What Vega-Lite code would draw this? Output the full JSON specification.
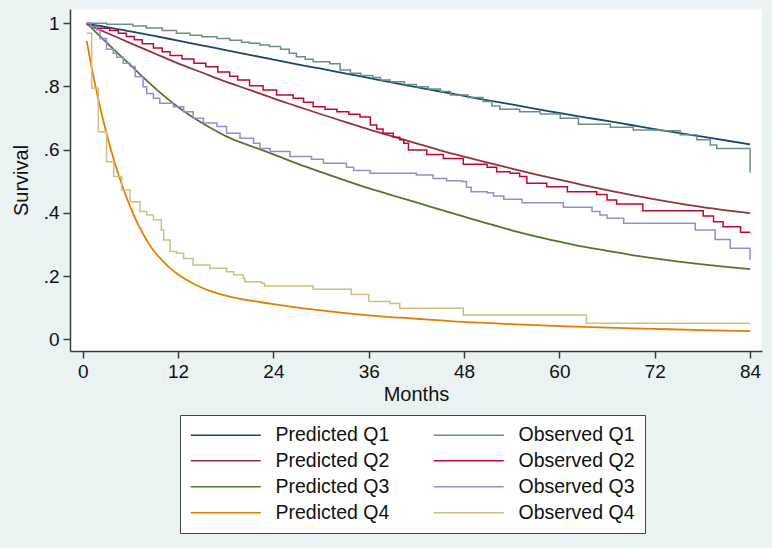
{
  "$schema": "https://vega.github.io/schema/vega-lite/v6.json",
  "autosize": "none",
  "width": 692,
  "height": 342,
  "padding": {"left": 70, "top": 9, "right": 10, "bottom": 197},
  "background": "#eaf2f3",
  "datasets": {
    "pred": [
      {"series": "Predicted Q1", "month": 0.5, "survival": 0.998},
      {"series": "Predicted Q1", "month": 3, "survival": 0.988},
      {"series": "Predicted Q1", "month": 6, "survival": 0.974},
      {"series": "Predicted Q1", "month": 9, "survival": 0.96},
      {"series": "Predicted Q1", "month": 12, "survival": 0.945},
      {"series": "Predicted Q1", "month": 15, "survival": 0.93},
      {"series": "Predicted Q1", "month": 18, "survival": 0.915},
      {"series": "Predicted Q1", "month": 21, "survival": 0.9},
      {"series": "Predicted Q1", "month": 24, "survival": 0.885},
      {"series": "Predicted Q1", "month": 27, "survival": 0.87},
      {"series": "Predicted Q1", "month": 30, "survival": 0.856},
      {"series": "Predicted Q1", "month": 33, "survival": 0.841},
      {"series": "Predicted Q1", "month": 36, "survival": 0.827},
      {"series": "Predicted Q1", "month": 39, "survival": 0.812},
      {"series": "Predicted Q1", "month": 42, "survival": 0.798},
      {"series": "Predicted Q1", "month": 45, "survival": 0.784},
      {"series": "Predicted Q1", "month": 48, "survival": 0.77},
      {"series": "Predicted Q1", "month": 51, "survival": 0.756},
      {"series": "Predicted Q1", "month": 54, "survival": 0.743},
      {"series": "Predicted Q1", "month": 57, "survival": 0.729},
      {"series": "Predicted Q1", "month": 60, "survival": 0.716},
      {"series": "Predicted Q1", "month": 63, "survival": 0.703},
      {"series": "Predicted Q1", "month": 66, "survival": 0.691},
      {"series": "Predicted Q1", "month": 69, "survival": 0.678},
      {"series": "Predicted Q1", "month": 72, "survival": 0.665},
      {"series": "Predicted Q1", "month": 75, "survival": 0.653},
      {"series": "Predicted Q1", "month": 78, "survival": 0.641},
      {"series": "Predicted Q1", "month": 81, "survival": 0.629},
      {"series": "Predicted Q1", "month": 84, "survival": 0.617},
      {"series": "Predicted Q2", "month": 0.5, "survival": 0.997},
      {"series": "Predicted Q2", "month": 3, "survival": 0.97},
      {"series": "Predicted Q2", "month": 6, "survival": 0.937},
      {"series": "Predicted Q2", "month": 9, "survival": 0.905},
      {"series": "Predicted Q2", "month": 12, "survival": 0.873},
      {"series": "Predicted Q2", "month": 15, "survival": 0.844},
      {"series": "Predicted Q2", "month": 18, "survival": 0.815},
      {"series": "Predicted Q2", "month": 21, "survival": 0.789},
      {"series": "Predicted Q2", "month": 24, "survival": 0.762},
      {"series": "Predicted Q2", "month": 27, "survival": 0.737},
      {"series": "Predicted Q2", "month": 30, "survival": 0.712},
      {"series": "Predicted Q2", "month": 33, "survival": 0.688},
      {"series": "Predicted Q2", "month": 36, "survival": 0.664},
      {"series": "Predicted Q2", "month": 39, "survival": 0.642},
      {"series": "Predicted Q2", "month": 42, "survival": 0.62},
      {"series": "Predicted Q2", "month": 45, "survival": 0.598},
      {"series": "Predicted Q2", "month": 48, "survival": 0.578},
      {"series": "Predicted Q2", "month": 51, "survival": 0.559},
      {"series": "Predicted Q2", "month": 54, "survival": 0.54},
      {"series": "Predicted Q2", "month": 57, "survival": 0.522},
      {"series": "Predicted Q2", "month": 60, "survival": 0.505},
      {"series": "Predicted Q2", "month": 63, "survival": 0.488},
      {"series": "Predicted Q2", "month": 66, "survival": 0.472},
      {"series": "Predicted Q2", "month": 69, "survival": 0.457},
      {"series": "Predicted Q2", "month": 72, "survival": 0.443},
      {"series": "Predicted Q2", "month": 75, "survival": 0.43},
      {"series": "Predicted Q2", "month": 78, "survival": 0.418},
      {"series": "Predicted Q2", "month": 81, "survival": 0.408},
      {"series": "Predicted Q2", "month": 84, "survival": 0.399},
      {"series": "Predicted Q3", "month": 0.5, "survival": 1.0},
      {"series": "Predicted Q3", "month": 2, "survival": 0.963},
      {"series": "Predicted Q3", "month": 4, "survival": 0.915},
      {"series": "Predicted Q3", "month": 6, "survival": 0.868},
      {"series": "Predicted Q3", "month": 8, "survival": 0.82},
      {"series": "Predicted Q3", "month": 10, "survival": 0.775},
      {"series": "Predicted Q3", "month": 12, "survival": 0.735},
      {"series": "Predicted Q3", "month": 14, "survival": 0.7},
      {"series": "Predicted Q3", "month": 16, "survival": 0.67},
      {"series": "Predicted Q3", "month": 18, "survival": 0.643},
      {"series": "Predicted Q3", "month": 20, "survival": 0.622},
      {"series": "Predicted Q3", "month": 22, "survival": 0.604},
      {"series": "Predicted Q3", "month": 24, "survival": 0.585},
      {"series": "Predicted Q3", "month": 27, "survival": 0.556},
      {"series": "Predicted Q3", "month": 30, "survival": 0.529},
      {"series": "Predicted Q3", "month": 33, "survival": 0.503},
      {"series": "Predicted Q3", "month": 36, "survival": 0.478},
      {"series": "Predicted Q3", "month": 39, "survival": 0.455},
      {"series": "Predicted Q3", "month": 42, "survival": 0.433},
      {"series": "Predicted Q3", "month": 45, "survival": 0.41},
      {"series": "Predicted Q3", "month": 48, "survival": 0.388},
      {"series": "Predicted Q3", "month": 51, "survival": 0.366},
      {"series": "Predicted Q3", "month": 54, "survival": 0.345},
      {"series": "Predicted Q3", "month": 57, "survival": 0.326},
      {"series": "Predicted Q3", "month": 60, "survival": 0.309},
      {"series": "Predicted Q3", "month": 63, "survival": 0.293},
      {"series": "Predicted Q3", "month": 66, "survival": 0.28},
      {"series": "Predicted Q3", "month": 69, "survival": 0.267},
      {"series": "Predicted Q3", "month": 72, "survival": 0.256},
      {"series": "Predicted Q3", "month": 75, "survival": 0.246},
      {"series": "Predicted Q3", "month": 78, "survival": 0.237},
      {"series": "Predicted Q3", "month": 81, "survival": 0.229},
      {"series": "Predicted Q3", "month": 84, "survival": 0.222},
      {"series": "Predicted Q4", "month": 0.5, "survival": 0.944},
      {"series": "Predicted Q4", "month": 1, "survival": 0.876},
      {"series": "Predicted Q4", "month": 2, "survival": 0.755},
      {"series": "Predicted Q4", "month": 3, "survival": 0.651},
      {"series": "Predicted Q4", "month": 4, "survival": 0.561},
      {"series": "Predicted Q4", "month": 5, "survival": 0.484},
      {"series": "Predicted Q4", "month": 6, "survival": 0.418},
      {"series": "Predicted Q4", "month": 7, "survival": 0.362},
      {"series": "Predicted Q4", "month": 8, "survival": 0.316},
      {"series": "Predicted Q4", "month": 9, "survival": 0.278},
      {"series": "Predicted Q4", "month": 10, "survival": 0.25},
      {"series": "Predicted Q4", "month": 11, "survival": 0.225},
      {"series": "Predicted Q4", "month": 12, "survival": 0.205},
      {"series": "Predicted Q4", "month": 13, "survival": 0.189},
      {"series": "Predicted Q4", "month": 14, "survival": 0.175},
      {"series": "Predicted Q4", "month": 16, "survival": 0.153},
      {"series": "Predicted Q4", "month": 18, "survival": 0.138},
      {"series": "Predicted Q4", "month": 20, "survival": 0.127},
      {"series": "Predicted Q4", "month": 22, "survival": 0.119},
      {"series": "Predicted Q4", "month": 24, "survival": 0.111},
      {"series": "Predicted Q4", "month": 28, "survival": 0.097},
      {"series": "Predicted Q4", "month": 32, "survival": 0.086},
      {"series": "Predicted Q4", "month": 36, "survival": 0.076},
      {"series": "Predicted Q4", "month": 42, "survival": 0.065},
      {"series": "Predicted Q4", "month": 48, "survival": 0.055},
      {"series": "Predicted Q4", "month": 54, "survival": 0.048},
      {"series": "Predicted Q4", "month": 60, "survival": 0.042},
      {"series": "Predicted Q4", "month": 66, "survival": 0.037},
      {"series": "Predicted Q4", "month": 72, "survival": 0.033},
      {"series": "Predicted Q4", "month": 78, "survival": 0.029},
      {"series": "Predicted Q4", "month": 84, "survival": 0.026}
    ],
    "obs": [
      {"series": "Observed Q1", "month": 0.5, "survival": 1.0},
      {"series": "Observed Q1", "month": 3, "survival": 0.997},
      {"series": "Observed Q1", "month": 6.3, "survival": 0.991},
      {"series": "Observed Q1", "month": 8, "survival": 0.985},
      {"series": "Observed Q1", "month": 10, "survival": 0.977},
      {"series": "Observed Q1", "month": 11.8, "survival": 0.968},
      {"series": "Observed Q1", "month": 13.5, "survival": 0.962},
      {"series": "Observed Q1", "month": 15, "survival": 0.957},
      {"series": "Observed Q1", "month": 16.9, "survival": 0.952},
      {"series": "Observed Q1", "month": 18.5, "survival": 0.946},
      {"series": "Observed Q1", "month": 20, "survival": 0.94},
      {"series": "Observed Q1", "month": 21, "survival": 0.937},
      {"series": "Observed Q1", "month": 22.3, "survival": 0.931},
      {"series": "Observed Q1", "month": 23.5, "survival": 0.926},
      {"series": "Observed Q1", "month": 24.9, "survival": 0.918},
      {"series": "Observed Q1", "month": 26, "survival": 0.905},
      {"series": "Observed Q1", "month": 26.9, "survival": 0.894},
      {"series": "Observed Q1", "month": 28, "survival": 0.886},
      {"series": "Observed Q1", "month": 29, "survival": 0.878},
      {"series": "Observed Q1", "month": 31.1, "survival": 0.872},
      {"series": "Observed Q1", "month": 32.4, "survival": 0.852},
      {"series": "Observed Q1", "month": 33.7, "survival": 0.842},
      {"series": "Observed Q1", "month": 35, "survival": 0.835},
      {"series": "Observed Q1", "month": 36.5, "survival": 0.828},
      {"series": "Observed Q1", "month": 37.5, "survival": 0.82},
      {"series": "Observed Q1", "month": 38.7, "survival": 0.815},
      {"series": "Observed Q1", "month": 40.5, "survival": 0.806},
      {"series": "Observed Q1", "month": 42, "survival": 0.799},
      {"series": "Observed Q1", "month": 43.5, "survival": 0.792},
      {"series": "Observed Q1", "month": 45, "survival": 0.784},
      {"series": "Observed Q1", "month": 46.3, "survival": 0.773},
      {"series": "Observed Q1", "month": 48.5, "survival": 0.765},
      {"series": "Observed Q1", "month": 50.4, "survival": 0.752},
      {"series": "Observed Q1", "month": 51.5, "survival": 0.738},
      {"series": "Observed Q1", "month": 52.5, "survival": 0.728},
      {"series": "Observed Q1", "month": 55, "survival": 0.72},
      {"series": "Observed Q1", "month": 57.6, "survival": 0.713},
      {"series": "Observed Q1", "month": 60.1, "survival": 0.699},
      {"series": "Observed Q1", "month": 62.4, "survival": 0.68},
      {"series": "Observed Q1", "month": 66.4, "survival": 0.671},
      {"series": "Observed Q1", "month": 69.3, "survival": 0.662},
      {"series": "Observed Q1", "month": 72.7, "survival": 0.66},
      {"series": "Observed Q1", "month": 75.2, "survival": 0.647},
      {"series": "Observed Q1", "month": 77.3, "survival": 0.631},
      {"series": "Observed Q1", "month": 79, "survival": 0.615},
      {"series": "Observed Q1", "month": 79.8, "survival": 0.604},
      {"series": "Observed Q1", "month": 83.9, "survival": 0.604},
      {"series": "Observed Q1", "month": 84, "survival": 0.528},
      {"series": "Observed Q2", "month": 0.5, "survival": 1.0},
      {"series": "Observed Q2", "month": 1, "survival": 0.992},
      {"series": "Observed Q2", "month": 1.8, "survival": 0.984},
      {"series": "Observed Q2", "month": 3.4, "survival": 0.977},
      {"series": "Observed Q2", "month": 4.5, "survival": 0.968},
      {"series": "Observed Q2", "month": 5.5, "survival": 0.958},
      {"series": "Observed Q2", "month": 6.5, "survival": 0.948},
      {"series": "Observed Q2", "month": 7.5, "survival": 0.935},
      {"series": "Observed Q2", "month": 8.9, "survival": 0.922},
      {"series": "Observed Q2", "month": 10, "survival": 0.91},
      {"series": "Observed Q2", "month": 11, "survival": 0.898},
      {"series": "Observed Q2", "month": 12.5, "survival": 0.887},
      {"series": "Observed Q2", "month": 14, "survival": 0.873},
      {"series": "Observed Q2", "month": 15.5, "survival": 0.862},
      {"series": "Observed Q2", "month": 17, "survival": 0.846},
      {"series": "Observed Q2", "month": 18.5, "survival": 0.832},
      {"series": "Observed Q2", "month": 19.5, "survival": 0.82},
      {"series": "Observed Q2", "month": 21, "survival": 0.802},
      {"series": "Observed Q2", "month": 22.7, "survival": 0.789},
      {"series": "Observed Q2", "month": 24.4, "survival": 0.773},
      {"series": "Observed Q2", "month": 26.5, "survival": 0.763},
      {"series": "Observed Q2", "month": 27.8, "survival": 0.75},
      {"series": "Observed Q2", "month": 29, "survival": 0.736},
      {"series": "Observed Q2", "month": 30.5, "survival": 0.728},
      {"series": "Observed Q2", "month": 32, "survival": 0.72},
      {"series": "Observed Q2", "month": 33.5, "survival": 0.712},
      {"series": "Observed Q2", "month": 34.9, "survival": 0.703},
      {"series": "Observed Q2", "month": 36.2, "survival": 0.678},
      {"series": "Observed Q2", "month": 37, "survival": 0.665},
      {"series": "Observed Q2", "month": 37.8, "survival": 0.652},
      {"series": "Observed Q2", "month": 39.1, "survival": 0.639},
      {"series": "Observed Q2", "month": 39.9, "survival": 0.631},
      {"series": "Observed Q2", "month": 40.4, "survival": 0.62},
      {"series": "Observed Q2", "month": 41, "survival": 0.599},
      {"series": "Observed Q2", "month": 43.3, "survival": 0.585},
      {"series": "Observed Q2", "month": 45.4, "survival": 0.572},
      {"series": "Observed Q2", "month": 47.9, "survival": 0.554},
      {"series": "Observed Q2", "month": 50.9, "survival": 0.544},
      {"series": "Observed Q2", "month": 52.1, "survival": 0.53},
      {"series": "Observed Q2", "month": 53.8, "survival": 0.525},
      {"series": "Observed Q2", "month": 55, "survival": 0.515},
      {"series": "Observed Q2", "month": 55.9, "survival": 0.494},
      {"series": "Observed Q2", "month": 58.4, "survival": 0.483},
      {"series": "Observed Q2", "month": 61, "survival": 0.467},
      {"series": "Observed Q2", "month": 64.7, "survival": 0.458},
      {"series": "Observed Q2", "month": 66, "survival": 0.441},
      {"series": "Observed Q2", "month": 67.2, "survival": 0.428},
      {"series": "Observed Q2", "month": 70.5, "survival": 0.407},
      {"series": "Observed Q2", "month": 78.1, "survival": 0.39},
      {"series": "Observed Q2", "month": 79.4, "survival": 0.372},
      {"series": "Observed Q2", "month": 80.6, "survival": 0.356},
      {"series": "Observed Q2", "month": 82.8, "survival": 0.339},
      {"series": "Observed Q2", "month": 84, "survival": 0.339},
      {"series": "Observed Q3", "month": 0.5, "survival": 1.0},
      {"series": "Observed Q3", "month": 1, "survival": 0.99},
      {"series": "Observed Q3", "month": 1.76, "survival": 0.979},
      {"series": "Observed Q3", "month": 2.18, "survival": 0.952},
      {"series": "Observed Q3", "month": 3.0, "survival": 0.918},
      {"series": "Observed Q3", "month": 3.85, "survival": 0.905},
      {"series": "Observed Q3", "month": 4.28, "survival": 0.892},
      {"series": "Observed Q3", "month": 5.1, "survival": 0.873},
      {"series": "Observed Q3", "month": 5.96, "survival": 0.863},
      {"series": "Observed Q3", "month": 6.6, "survival": 0.831},
      {"series": "Observed Q3", "month": 7.6, "survival": 0.799},
      {"series": "Observed Q3", "month": 8.06, "survival": 0.778},
      {"series": "Observed Q3", "month": 8.9, "survival": 0.763},
      {"series": "Observed Q3", "month": 9.7, "survival": 0.747},
      {"series": "Observed Q3", "month": 11.4, "survival": 0.736},
      {"series": "Observed Q3", "month": 12.7, "survival": 0.72},
      {"series": "Observed Q3", "month": 13.9, "survival": 0.699},
      {"series": "Observed Q3", "month": 15.2, "survival": 0.684},
      {"series": "Observed Q3", "month": 16.9, "survival": 0.673},
      {"series": "Observed Q3", "month": 18.1, "survival": 0.652},
      {"series": "Observed Q3", "month": 19.8, "survival": 0.636},
      {"series": "Observed Q3", "month": 21.5, "survival": 0.62},
      {"series": "Observed Q3", "month": 22.3, "survival": 0.604},
      {"series": "Observed Q3", "month": 23.6, "survival": 0.594},
      {"series": "Observed Q3", "month": 26.1, "survival": 0.578},
      {"series": "Observed Q3", "month": 28.8, "survival": 0.57},
      {"series": "Observed Q3", "month": 30.3, "survival": 0.557},
      {"series": "Observed Q3", "month": 33.2, "survival": 0.544},
      {"series": "Observed Q3", "month": 34.1, "survival": 0.534},
      {"series": "Observed Q3", "month": 36.2, "survival": 0.525},
      {"series": "Observed Q3", "month": 42, "survival": 0.52},
      {"series": "Observed Q3", "month": 44.1, "survival": 0.509},
      {"series": "Observed Q3", "month": 45.8, "survival": 0.502},
      {"series": "Observed Q3", "month": 47.7, "survival": 0.499},
      {"series": "Observed Q3", "month": 48.3, "survival": 0.481},
      {"series": "Observed Q3", "month": 48.9, "survival": 0.467},
      {"series": "Observed Q3", "month": 50.9, "survival": 0.464},
      {"series": "Observed Q3", "month": 51.7, "survival": 0.453},
      {"series": "Observed Q3", "month": 53, "survival": 0.443},
      {"series": "Observed Q3", "month": 55.3, "survival": 0.432},
      {"series": "Observed Q3", "month": 60.5, "survival": 0.418},
      {"series": "Observed Q3", "month": 64.1, "survival": 0.404},
      {"series": "Observed Q3", "month": 65.1, "survival": 0.393},
      {"series": "Observed Q3", "month": 66, "survival": 0.383},
      {"series": "Observed Q3", "month": 68.1, "survival": 0.367},
      {"series": "Observed Q3", "month": 77.1, "survival": 0.346},
      {"series": "Observed Q3", "month": 79.6, "survival": 0.316},
      {"series": "Observed Q3", "month": 81.5, "survival": 0.288},
      {"series": "Observed Q3", "month": 83.9, "survival": 0.288},
      {"series": "Observed Q3", "month": 84, "survival": 0.251},
      {"series": "Observed Q4", "month": 0.5, "survival": 0.968},
      {"series": "Observed Q4", "month": 1.13, "survival": 0.794},
      {"series": "Observed Q4", "month": 1.96, "survival": 0.657},
      {"series": "Observed Q4", "month": 3.0, "survival": 0.562},
      {"series": "Observed Q4", "month": 3.9, "survival": 0.515},
      {"series": "Observed Q4", "month": 4.9, "survival": 0.472},
      {"series": "Observed Q4", "month": 5.95, "survival": 0.435},
      {"series": "Observed Q4", "month": 7.2, "survival": 0.404},
      {"series": "Observed Q4", "month": 8.06, "survival": 0.393},
      {"series": "Observed Q4", "month": 8.9, "survival": 0.378},
      {"series": "Observed Q4", "month": 9.9, "survival": 0.346},
      {"series": "Observed Q4", "month": 10.2, "survival": 0.314},
      {"series": "Observed Q4", "month": 11.0, "survival": 0.278},
      {"series": "Observed Q4", "month": 11.8, "survival": 0.272},
      {"series": "Observed Q4", "month": 12.7, "survival": 0.256},
      {"series": "Observed Q4", "month": 13.9, "survival": 0.235},
      {"series": "Observed Q4", "month": 16.0, "survival": 0.225},
      {"series": "Observed Q4", "month": 18.1, "survival": 0.214},
      {"series": "Observed Q4", "month": 19.0, "survival": 0.204},
      {"series": "Observed Q4", "month": 20.2, "survival": 0.193},
      {"series": "Observed Q4", "month": 20.4, "survival": 0.182},
      {"series": "Observed Q4", "month": 22.5, "survival": 0.177},
      {"series": "Observed Q4", "month": 22.9, "survival": 0.169},
      {"series": "Observed Q4", "month": 29.0, "survival": 0.158},
      {"series": "Observed Q4", "month": 33.8, "survival": 0.142},
      {"series": "Observed Q4", "month": 36.0, "survival": 0.12},
      {"series": "Observed Q4", "month": 38.7, "survival": 0.113},
      {"series": "Observed Q4", "month": 39.9, "survival": 0.098},
      {"series": "Observed Q4", "month": 47.9, "survival": 0.077},
      {"series": "Observed Q4", "month": 63.4, "survival": 0.051},
      {"series": "Observed Q4", "month": 84, "survival": 0.051}
    ]
  },
  "encoding": {
    "x": {
      "field": "month", "type": "quantitative",
      "scale": {"domain": [-1.6, 85.5], "nice": false, "zero": false},
      "axis": {"title": "Months", "values": [0, 12, 24, 36, 48, 60, 72, 84], "titlePadding": 3}
    },
    "y": {
      "field": "survival", "type": "quantitative",
      "scale": {"domain": [-0.037, 1.045], "nice": false, "zero": false},
      "axis": {
        "title": "Survival",
        "values": [0, 0.2, 0.4, 0.6, 0.8, 1],
        "labelAngle": 0,
        "labelExpr": "datum.value == 0 ? '0' : datum.value == 1 ? '1' : replace(format(datum.value, '.1f'), '0.', '.')",
        "titlePadding": 12
      }
    },
    "color": {
      "field": "series", "type": "nominal",
      "scale": {
        "domain": ["Predicted Q1", "Predicted Q2", "Predicted Q3", "Predicted Q4", "Observed Q1", "Observed Q2", "Observed Q3", "Observed Q4"],
        "range": ["#1a476f", "#90353b", "#55752f", "#e37e00", "#6e8e84", "#c10534", "#938dd2", "#cac27e"]
      },
      "legend": {
        "title": null,
        "orient": "none",
        "legendX": 110,
        "legendY": 406,
        "columns": 2,
        "symbolType": "M-7,0H7",
        "symbolSize": 100,
        "symbolStrokeWidth": 1.5,
        "symbolOffset": 26,
        "labelOffset": 40,
        "columnPadding": 40,
        "rowPadding": 5,
        "padding": 10,
        "fillColor": "white",
        "strokeColor": "#444444"
      }
    }
  },
  "layer": [
    {"data": {"name": "pred"}, "mark": {"type": "line", "interpolate": "monotone", "strokeWidth": 1.8, "clip": true}},
    {"data": {"name": "obs"}, "mark": {"type": "line", "interpolate": "step-after", "strokeWidth": 1.5, "clip": true}}
  ],
  "config": {
    "view": {"fill": "white", "stroke": null},
    "font": "Liberation Sans",
    "axis": {
      "grid": false,
      "domainColor": "#3c3c3c", "domainWidth": 1.5,
      "tickColor": "#3c3c3c", "tickWidth": 1.5, "tickSize": 7,
      "labelFont": "Liberation Sans", "labelFontSize": 19, "labelColor": "#111111", "labelPadding": 4,
      "titleFont": "Liberation Sans", "titleFontSize": 20, "titleFontWeight": "normal", "titleColor": "#111111"
    },
    "legend": {
      "labelFont": "Liberation Sans", "labelFontSize": 19.5, "labelColor": "#111111", "labelLimit": 300
    }
  }
}
